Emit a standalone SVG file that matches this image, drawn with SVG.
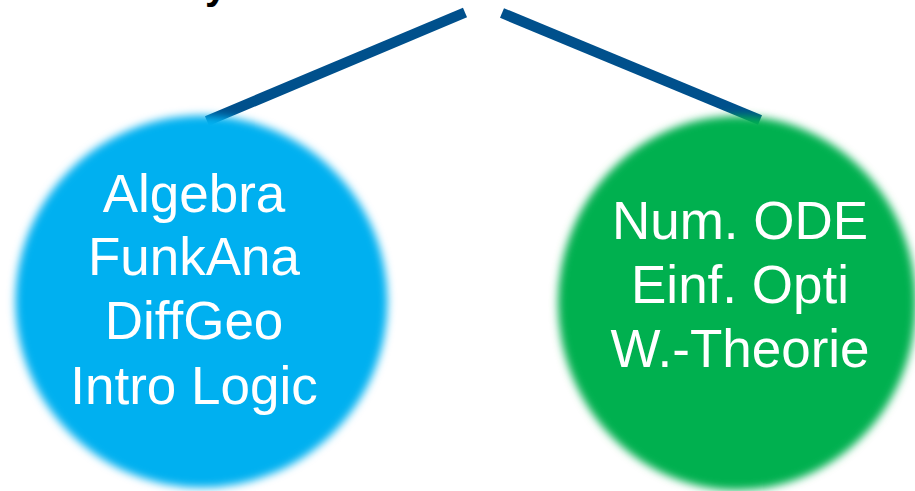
<svg xmlns="http://www.w3.org/2000/svg" width="915" height="491" viewBox="0 0 915 491">
  <defs>
    <filter id="soft" x="-10%" y="-10%" width="120%" height="120%">
      <feGaussianBlur stdDeviation="4"/>
    </filter>
  </defs>
  <style>
    .conn { stroke: #00508C; stroke-width: 10.5; stroke-linecap: butt; fill: none; }
    .lbl { font-family: "Liberation Sans", Arial, sans-serif; font-size: 53px; fill: #FFFFFF; text-anchor: middle; }
    .title { font-family: "Liberation Sans", Arial, sans-serif; font-size: 40px; font-weight: bold; fill: #000000; }
  </style>
  <rect width="915" height="491" fill="#FFFFFF"/>
  <text class="title" x="205" y="-1">y</text>
  <g id="connectors">
    <line class="conn" x1="465" y1="12.5" x2="207" y2="121"/>
    <line class="conn" x1="502" y1="13" x2="760" y2="120"/>
  </g>
  <g id="node-left">
    <circle cx="201.5" cy="301.5" r="186" fill="#00B0F0" filter="url(#soft)"/>
    <text class="lbl" x="194" y="212">Algebra</text>
    <text class="lbl" x="194" y="275">FunkAna</text>
    <text class="lbl" x="194" y="339">DiffGeo</text>
    <text class="lbl" x="194" y="404">Intro Logic</text>
  </g>
  <g id="node-right">
    <ellipse cx="737" cy="303" rx="179" ry="187" fill="#00B050" filter="url(#soft)"/>
    <text class="lbl" x="740" y="239">Num. ODE</text>
    <text class="lbl" x="740" y="303">Einf. Opti</text>
    <text class="lbl" x="740" y="367">W.-Theorie</text>
  </g>
</svg>
